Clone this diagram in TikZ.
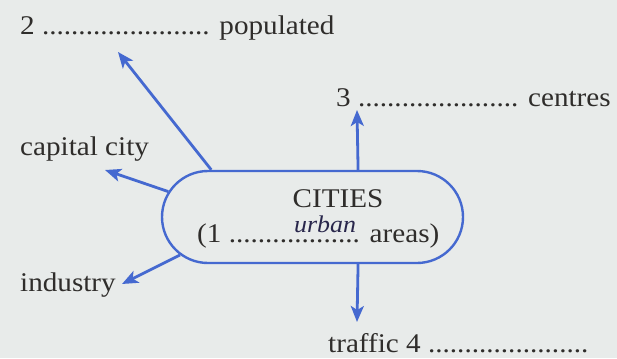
\documentclass[tikz,border=0pt]{standalone}
\usepackage{fontspec}
\setmainfont[FakeStretch=1.08]{Liberation Serif}
\usetikzlibrary{arrows.meta,shapes.misc}
\definecolor{bg}{HTML}{E8EBEA}
\definecolor{ink}{HTML}{2F2D2B}
\definecolor{lineblue}{HTML}{4569D0}
\begin{document}
\begin{tikzpicture}[x=1pt,y=-1pt,
  lbl/.style={font=\fontsize{27}{30}\selectfont, text=ink, inner sep=0pt, anchor=base west},
  hand/.style={font=\fontsize{24}{28}\selectfont\itshape, text=ink!85!blue, inner sep=0pt, anchor=base},
  arr/.style={draw=lineblue, line width=2.8pt, -{Stealth[length=16pt,width=13pt,inset=4pt]}},
  stad/.style={rounded rectangle, draw=lineblue, line width=2.4pt, minimum width=301pt, minimum height=92pt, inner sep=0pt}]
\fill[bg] (0,0) rectangle (617,358);
\useasboundingbox (0,0) rectangle (617,358);
\node[lbl] (l2) at (20,35) {2 ....................... populated};
\node[lbl] (l3) at (336,107) {3 ...................... centres};
\node[lbl] (lcap) at (20,155) {capital city};
\node[lbl] (lind) at (20,291) {industry};
\node[lbl] (l4) at (328,352) {traffic 4 ......................};
\node[stad] (cities) at (312.5,217) {};
\node[lbl, anchor=base] (title) at (338,207) {CITIES};
\node[lbl] (sub) at (197,242) {(1 .................. areas)};
\node[hand] (ans) at (325,232) {urban};
\coordinate (t2) at (118,52);
\coordinate (tcap) at (105,170);
\coordinate (tind) at (122,284);
\coordinate (t3) at (357,110);
\coordinate (t4) at (357,322);
\draw[arr] (cities.155.4) -- (t2);
\draw[arr] (cities.170.5) -- (tcap);
\draw[arr] (cities.196.8) -- (tind);
\draw[arr] (cities.46) -- (t3);
\draw[arr] (cities.314) -- (t4);
\end{tikzpicture}
\end{document}
